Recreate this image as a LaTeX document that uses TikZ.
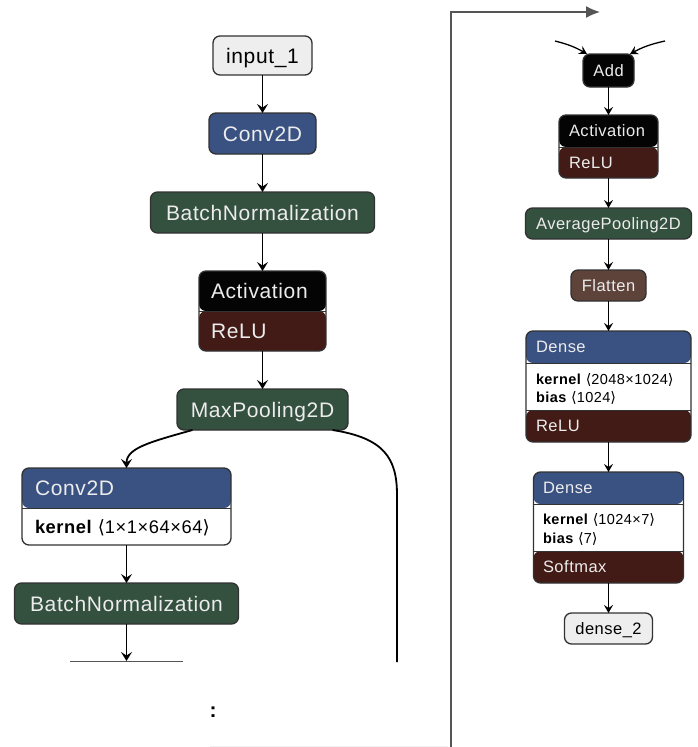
\documentclass[tikz,border=0pt]{standalone}
\usepackage{fontspec}
\setmainfont{Liberation Sans}[LetterSpace=3]
\newfontfamily\dejavu{DejaVu Sans}
\usetikzlibrary{arrows.meta}
\newcommand\lng{{\dejavu\char"27E8}}
\newcommand\rng{{\dejavu\char"27E9}}
\definecolor{cblue}{RGB}{58,82,130}
\definecolor{cgreen}{RGB}{52,80,62}
\definecolor{cblack}{RGB}{4,4,4}
\definecolor{crelu}{RGB}{66,27,22}
\definecolor{cbrown}{RGB}{94,67,58}
\definecolor{clight}{RGB}{238,238,238}
\definecolor{cborder}{RGB}{50,50,50}
\definecolor{ctext}{RGB}{236,236,236}
\definecolor{cline}{RGB}{85,85,85}
\tikzset{
  box/.style={rectangle, rounded corners=7pt, draw=cborder, line width=1.3pt,
    inner sep=0pt, outer sep=0pt, text depth=0pt},
  big/.style={font=\fontsize{21}{24}\selectfont, text height=15pt},
  small/.style={font=\fontsize{16.5}{19}\selectfont, text height=11.8pt},
  bigpar/.style={font=\fontsize{18.3}{21}\selectfont, text height=13.1pt},
  smallpar/.style={font=\fontsize{14.5}{17}\selectfont, text height=10.4pt},
  lbl/.style={inner sep=0pt, outer sep=0pt, text depth=0pt, anchor=west},
  hdr/.style={lbl, text=ctext},
  par/.style={lbl, text=black},
  sep/.style={draw=cborder, line width=0.9pt},
  twoband/.style n args={3}{path picture={
    \fill[#1] (path picture bounding box.north west) rectangle ([yshift=-#3]path picture bounding box.north east);
    \fill[#2] ([yshift=-#3]path picture bounding box.north west) rectangle (path picture bounding box.south east);
    \draw[sep] ([yshift=-#3]path picture bounding box.north west) -- ([yshift=-#3]path picture bounding box.north east);}},
  threeband/.style n args={2}{path picture={
    \fill[cblue] (path picture bounding box.north west) rectangle ([yshift=-#1]path picture bounding box.north east);
    \fill[white] ([yshift=-#1]path picture bounding box.north west) rectangle ([yshift=-#2]path picture bounding box.north east);
    \fill[crelu] ([yshift=-#2]path picture bounding box.north west) rectangle (path picture bounding box.south east);
    \draw[sep] ([yshift=-#1]path picture bounding box.north west) -- ([yshift=-#1]path picture bounding box.north east);
    \draw[sep] ([yshift=-#2]path picture bounding box.north west) -- ([yshift=-#2]path picture bounding box.north east);}},
  arr/.style={-{Stealth[length=9pt,width=11pt,inset=3.5pt]}, line width=1.8pt, black},
  thinarr/.style={-{Stealth[length=8pt,width=9pt,inset=3pt]}, line width=1.3pt, black},
  plain/.style={line width=1.8pt, black},
  skip/.style={line width=1.4pt, cline},
}
\begin{document}
\begin{tikzpicture}[x=1pt,y=-1pt]
\useasboundingbox[fill=white] (0,0) rectangle (697,747);

% ---------- left column ----------
\node[box, big, fill=clight, minimum width=99pt, minimum height=39pt] (in1) at (262.5,55.5) {input\_1};
\node[box, big, fill=cblue, text=ctext, minimum width=107pt, minimum height=41pt] (c1) at (262.5,133.5) {Conv2D};
\node[box, big, fill=cgreen, text=ctext, minimum width=224pt, minimum height=41pt] (bn1) at (262.5,212.5) {BatchNormalization};
\node[box, twoband={cblack}{crelu}{40pt}, minimum width=127pt, minimum height=80pt] (act1) at (262.5,311) {};
\node[hdr, big] (act1h) at (211,291) {Activation};
\node[hdr, big] (act1f) at (211,331) {ReLU};
\node[box, big, fill=cgreen, text=ctext, minimum width=171pt, minimum height=41pt] (mp) at (262.5,409.5) {MaxPooling2D};
\node[box, twoband={cblue}{white}{40pt}, minimum width=209pt, minimum height=77pt] (c2) at (126.5,506.5) {};
\node[hdr, big] (c2h) at (35,488) {Conv2D};
\node[par, bigpar] (c2p) at (35,527) {\textbf{kernel} \lng1×1×64×64\rng};
\node[box, big, fill=cgreen, text=ctext, minimum width=224pt, minimum height=41pt] (bn2) at (126.5,603.5) {BatchNormalization};

\coordinate (cutL) at (70,661);
\coordinate (cutR) at (183,661);
\coordinate (cutM) at (126.5,661);
\coordinate (rend) at (397,662);
\node[font=\fontsize{21}{24}\bfseries, inner sep=0pt] (dots) at (213,712.5) {:};

\draw[arr] (in1) -- (c1);
\draw[arr] (c1) -- (bn1);
\draw[arr] (bn1) -- (act1);
\draw[arr] (act1) -- (mp);
\draw[arr] ([xshift=-70pt]mp.south) .. controls (150,442) and (126.5,448) .. (c2.north);
\draw[arr] (c2) -- (bn2);
\draw[arr] (bn2) -- (cutM);
\draw[line width=1pt, cline] (cutL) -- (cutR);
\draw[plain] ([xshift=70pt]mp.south) .. controls (384,438) and (397,458) .. (397,495) -- (rend);

% ---------- skip line ----------
\coordinate (vbot) at (451,747);
\coordinate (vtop) at (451,12);
\coordinate (vtip) at (600,12);
\draw[skip, -{Latex[length=14pt,width=12pt]}] (vbot) -- (vtop) -- (vtip);
\draw[line width=0.8pt, black!6] (210,746) -- (448,746);

% ---------- right column ----------
\node[box, small, fill=cblack, text=ctext, minimum width=51pt, minimum height=33pt] (add) at (608.5,70.5) {Add};
\node[box, twoband={cblack}{crelu}{32pt}, minimum width=99pt, minimum height=63pt] (act2) at (608.5,146.5) {};
\node[hdr, small] (act2h) at (569,131) {Activation};
\node[hdr, small] (act2f) at (569,162.5) {ReLU};
\node[box, small, fill=cgreen, text=ctext, minimum width=166pt, minimum height=31pt] (avg) at (608.5,223.5) {AveragePooling2D};
\node[box, small, fill=cbrown, text=ctext, minimum width=75pt, minimum height=31pt] (fl) at (608.5,285.5) {Flatten};
\node[box, threeband={32pt}{79pt}, minimum width=165pt, minimum height=111pt] (d1) at (608.5,386.5) {};
\node[hdr, small] (d1h) at (536,347) {Dense};
\node[par, smallpar] (d1k) at (536,379) {\textbf{kernel} \lng2048×1024\rng};
\node[par, smallpar] (d1b) at (536,397) {\textbf{bias} \lng1024\rng};
\node[hdr, small] (d1f) at (536,426) {ReLU};
\node[box, threeband={32pt}{79pt}, minimum width=150pt, minimum height=111pt] (d2) at (608.5,527.5) {};
\node[hdr, small] (d2h) at (543,488) {Dense};
\node[par, smallpar] (d2k) at (543,519) {\textbf{kernel} \lng1024×7\rng};
\node[par, smallpar] (d2b) at (543,538) {\textbf{bias} \lng7\rng};
\node[hdr, small] (d2f) at (543,567) {Softmax};
\node[box, small, fill=clight, minimum width=88pt, minimum height=31pt] (out) at (608.5,628.5) {dense\_2};

\coordinate (inA) at (555,41);
\coordinate (inB) at (665,41);
\draw[thinarr] (inA) to[bend left=8] ([xshift=4pt]add.north west);
\draw[thinarr] (inB) to[bend right=8] ([xshift=-4pt]add.north east);
\draw[thinarr] (add) -- (act2);
\draw[thinarr] (act2) -- (avg);
\draw[thinarr] (avg) -- (fl);
\draw[thinarr] (fl) -- (d1);
\draw[thinarr] (d1) -- (d2);
\draw[thinarr] (d2) -- (out);
\end{tikzpicture}
\end{document}
